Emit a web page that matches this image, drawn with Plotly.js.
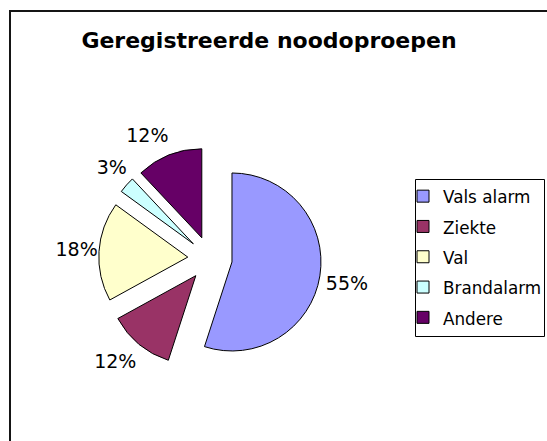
<!DOCTYPE html>
<html>
<head>
<meta charset="utf-8">
<script src="https://cdn.plot.ly/plotly-3.0.1.min.js"></script>
<style>
html,body{margin:0;padding:0;background:#fff;overflow:hidden;}
#chart{width:547px;height:441px;}
</style>
</head>
<body>
<div id="chart"></div>
<script>
const categories = ['Vals alarm', 'Ziekte', 'Val', 'Brandalarm', 'Andere'];
const values = [55, 12, 18, 3, 12];
const colors = ['#9999FF', '#993366', '#FFFFCC', '#CCFFFF', '#660066'];
const titleText = 'Geregistreerde noodoproepen';

const W = 547, H = 441;
const px = v => v / W;
const py = v => 1 - v / H;

// pie geometry (pixels): centre, radius, explosion
const CX = 210, CY = 258.5, R = 89, PULL = 0.25;
const domainFor = (maxPull) => {
  const half = R * (1 + maxPull);
  return { x: [px(CX - half), px(CX + half)], y: [py(CY + half), py(CY - half)] };
};

const legendNames = categories.map(c => '<span style="font-size:16.8px;baseline-shift:1.5px">' + c + '</span>');

const slices = {
  type: 'pie',
  labels: legendNames,
  values: values,
  sort: false,
  direction: 'clockwise',
  rotation: 0,
  pull: PULL,
  marker: { colors: colors, line: { color: '#000', width: 1 } },
  textinfo: 'none',
  automargin: false,
  domain: domainFor(PULL),
  hoverinfo: 'label+percent'
};

// label layers: same data, invisible wedges, only the percentage labels shown
const labelPull = [0.27, 0.315, 0.205, 0.30, 0.34];
const labelRotation = [3.5, -4, 1.5, 6.5, 4];
const labelLayer = (rotation, positions) => ({
  type: 'pie',
  labels: legendNames,
  values: values,
  sort: false,
  direction: 'clockwise',
  rotation: rotation,
  pull: labelPull,
  showlegend: false,
  marker: { colors: categories.map(() => 'rgba(0,0,0,0)'), line: { width: 0 } },
  textinfo: 'percent',
  texttemplate: '%{percent:.0%}',
  textposition: positions,
  outsidetextfont: { family: 'DejaVu Sans', size: 19, color: '#000' },
  automargin: false,
  domain: domainFor(Math.max(...labelPull)),
  hoverinfo: 'skip'
});

const layout = {
  width: W, height: H,
  margin: { l: 0, r: 0, t: 0, b: 0, autoexpand: false },
  paper_bgcolor: '#fff',
  font: { family: 'DejaVu Sans', color: '#000' },
  title: {
    text: '<b>' + titleText + '</b>',
    font: { family: 'DejaVu Sans', size: 22, color: '#000' },
    xref: 'container', yref: 'container',
    x: 269 / W, xanchor: 'center',
    y: 1 - 40 / H, yanchor: 'middle'
  },
  showlegend: true,
  legend: {
    x: px(403), xanchor: 'left',
    y: py(176), yanchor: 'top',
    font: { family: 'DejaVu Sans', size: 21, color: '#000' },
    bgcolor: 'rgba(0,0,0,0)',
    borderwidth: 0,
    traceorder: 'normal'
  },
  shapes: [
    { type: 'rect', xref: 'paper', yref: 'paper',
      x0: px(10), x1: 1.2, y0: -0.2, y1: py(11),
      line: { color: '#151515', width: 2 }, fillcolor: 'rgba(0,0,0,0)' },
    { type: 'rect', xref: 'paper', yref: 'paper',
      x0: px(415.5), x1: px(544.5), y0: py(336.5), y1: py(179.5),
      line: { color: '#000', width: 1 }, fillcolor: 'rgba(0,0,0,0)' }
  ]
};

const traces = [slices];
[...new Set(labelRotation)].forEach(rot => {
  traces.push(labelLayer(rot, labelRotation.map(r => (r === rot ? 'outside' : 'none'))));
});

Plotly.newPlot('chart', traces, layout, { staticPlot: true, displayModeBar: false });
</script>
</body>
</html>
